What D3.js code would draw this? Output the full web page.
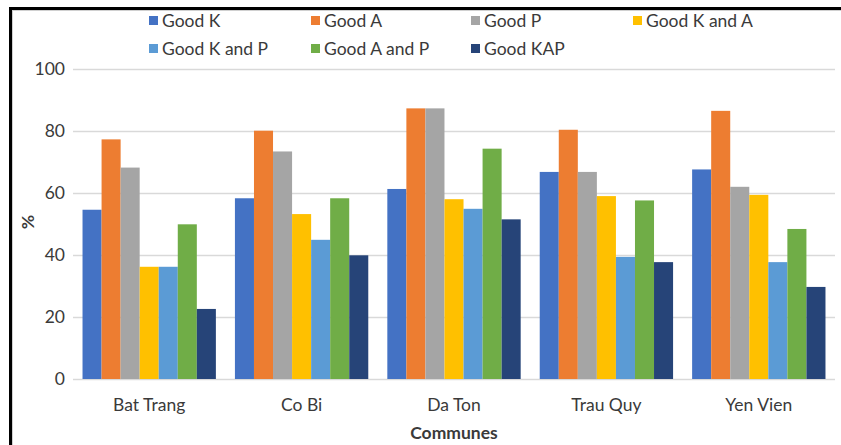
<!DOCTYPE html>
<html>
<head>
<meta charset="utf-8">
<script src="https://cdn.jsdelivr.net/npm/d3@7"></script>
<style>
  html, body { margin: 0; padding: 0; background: #fff; }
  svg { display: block; }
  text { font-family: Lato, "Open Sans", sans-serif; fill: #3a3a3a; }
</style>
</head>
<body>
<svg id="chart" width="841" height="445"></svg>
<script>
// Communes surveyed
const communes = ["Bat Trang", "Co Bi", "Da Ton", "Trau Quy", "Yen Vien"];

// Series names (legend order)
const seriesNames = ["Good K", "Good A", "Good P", "Good K and A", "Good K and P", "Good A and P", "Good KAP"];

// Percentages per series, one value per commune
const goodK   = [54.6, 58.3, 61.3, 66.8, 67.6];
const goodA   = [77.3, 80.1, 87.3, 80.4, 86.5];
const goodP   = [68.2, 73.4, 87.3, 66.8, 62.0];
const goodKA  = [36.2, 53.2, 58.0, 59.0, 59.4];
const goodKP  = [36.2, 44.9, 54.9, 39.4, 37.7];
const goodAP  = [49.9, 58.3, 74.3, 57.6, 48.4];
const goodKAP = [22.6, 39.9, 51.5, 37.7, 29.7];

const yTicks = [0, 20, 40, 60, 80, 100];

const seriesValues = [goodK, goodA, goodP, goodKA, goodKP, goodAP, goodKAP];
const colors = ["#4472C4", "#ED7D31", "#A5A5A5", "#FFC000", "#5B9BD5", "#70AD47", "#264478"];

const fontSize = "17.5px";
const svg = d3.select("#chart");

// frame
svg.append("rect").attr("x", 12.5).attr("y", 10.5).attr("width", 840).attr("height", 440)
  .attr("fill", "none").attr("stroke", "#d0d0d0").attr("stroke-width", 1);
svg.append("line").attr("x1", 10.5).attr("x2", 10.5).attr("y1", 7).attr("y2", 445)
  .attr("stroke", "#000").attr("stroke-width", 3);
svg.append("line").attr("x1", 9).attr("x2", 841).attr("y1", 8.5).attr("y2", 8.5)
  .attr("stroke", "#000").attr("stroke-width", 3);

const plotLeft = 73, plotRight = 835, plotTop = 69, plotBottom = 379;

const y = d3.scaleLinear().domain([0, 100]).range([plotBottom, plotTop]);
const x0 = d3.scaleBand().domain(communes).range([plotLeft, plotRight])
  .paddingInner(0.125).paddingOuter(0.0625);
const x1 = d3.scaleBand().domain(seriesNames).range([0, x0.bandwidth()]).padding(0);

// gridlines
svg.append("g")
  .selectAll("line")
  .data(yTicks)
  .join("line")
  .attr("x1", plotLeft).attr("x2", plotRight)
  .attr("y1", d => Math.round(y(d)) + 0.5).attr("y2", d => Math.round(y(d)) + 0.5)
  .attr("stroke", "#d9d9d9").attr("stroke-width", 1.5);

// y axis labels
const yAxis = d3.axisLeft(y).tickValues(yTicks).tickSize(0).tickPadding(8);
const yg = svg.append("g").attr("transform", `translate(${plotLeft},0)`).call(yAxis);
yg.select(".domain").remove();
yg.selectAll("text").style("font-size", fontSize).style("font-family", "Lato, sans-serif").attr("fill", "#3a3a3a");

// bars
const groups = svg.append("g")
  .selectAll("g")
  .data(communes)
  .join("g")
  .attr("transform", d => `translate(${x0(d)},0)`);

groups.selectAll("rect")
  .data((c, i) => seriesNames.map((s, k) => ({ series: s, value: seriesValues[k][i], color: colors[k] })))
  .join("rect")
  .attr("x", d => x1(d.series))
  .attr("width", x1.bandwidth())
  .attr("y", d => y(d.value))
  .attr("height", d => y(0) - y(d.value))
  .attr("fill", d => d.color);

// x axis labels
const xAxis = d3.axisBottom(x0).tickSize(0).tickPadding(20);
const xg = svg.append("g").attr("transform", `translate(0,${plotBottom})`).call(xAxis);
xg.select(".domain").remove();
xg.selectAll("text").style("font-size", fontSize).style("font-family", "Lato, sans-serif").attr("fill", "#3a3a3a");

// axis titles
svg.append("text")
  .attr("x", (plotLeft + plotRight) / 2).attr("y", 439)
  .attr("text-anchor", "middle")
  .style("font-size", fontSize).style("font-weight", "bold")
  .text("Communes");

svg.append("text")
  .attr("transform", "translate(34,222) rotate(-90)")
  .attr("text-anchor", "middle")
  .style("font-size", fontSize).style("font-weight", "bold")
  .text("%");

// legend
const legendCols = [149, 311, 471, 633];
const legendRows = [21, 49];
const legend = svg.append("g");
seriesNames.forEach((s, k) => {
  const col = k < 4 ? k : k - 4;
  const row = k < 4 ? 0 : 1;
  const lx = legendCols[col], ly = legendRows[row];
  legend.append("rect").attr("x", lx).attr("y", ly - 5).attr("width", 9).attr("height", 9).attr("fill", colors[k]);
  legend.append("text").attr("x", lx + 13).attr("y", ly).attr("dy", "0.35em")
    .style("font-size", fontSize).text(s);
});
</script>
</body>
</html>
